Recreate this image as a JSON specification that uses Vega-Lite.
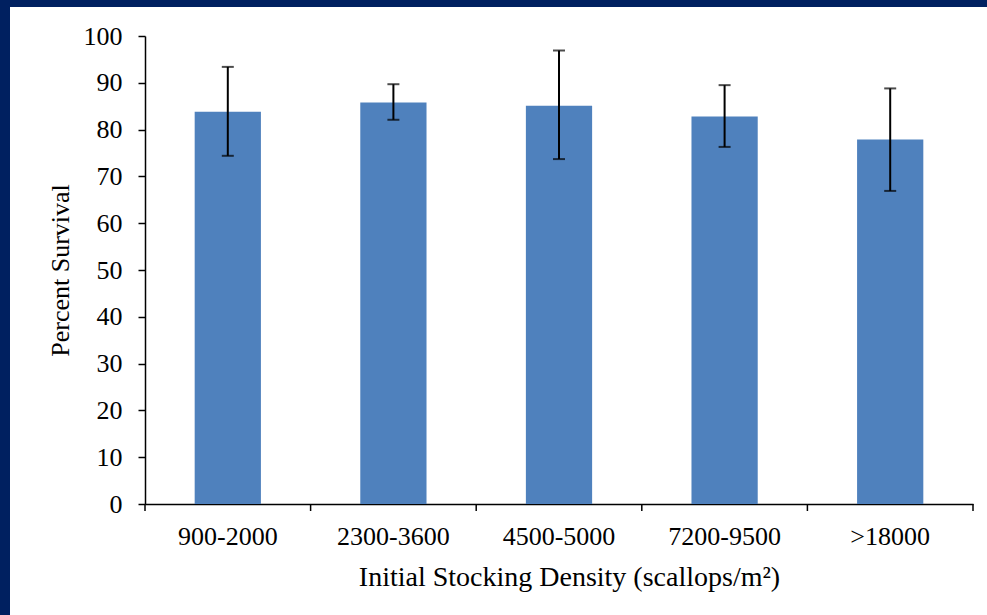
{
  "$schema": "https://vega.github.io/schema/vega-lite/v6.json",
  "width": 977,
  "height": 608,
  "autosize": {"type": "none"},
  "padding": {"left": 10, "top": 7, "right": 0, "bottom": 0},
  "background": "#002060",
  "config": {
    "view": {"fill": "white", "stroke": null},
    "font": "Liberation Serif"
  },
  "data": {
    "values": [
      {"density": "900-2000", "survival": 83.8, "lo": 74.4, "hi": 93.4},
      {"density": "2300-3600", "survival": 85.8, "lo": 82.1, "hi": 89.7},
      {"density": "4500-5000", "survival": 85.1, "lo": 73.7, "hi": 96.9},
      {"density": "7200-9500", "survival": 82.8, "lo": 76.3, "hi": 89.5},
      {"density": ">18000", "survival": 77.9, "lo": 66.9, "hi": 88.8}
    ]
  },
  "encoding": {
    "x": {
      "field": "density",
      "type": "nominal",
      "sort": null,
      "scale": {"range": [135, 963], "paddingInner": 0.6, "paddingOuter": 0.3},
      "axis": {
        "offset": -111,
        "labelAngle": 0,
        "labelFontSize": 26,
        "labelColor": "black",
        "labelPadding": 19,
        "domainColor": "black",
        "domainWidth": 1.5,
        "ticks": false,
        "grid": false,
        "title": "Initial Stocking Density (scallops/m²)",
        "titleFontSize": 28,
        "titleFontWeight": "normal",
        "titleColor": "black",
        "titlePadding": 14,
        "titleX": 559
      }
    }
  },
  "layer": [
    {
      "mark": {"type": "bar", "color": "#4f81bd"},
      "encoding": {
        "y": {
          "field": "survival",
          "type": "quantitative",
          "scale": {"domain": [0, 100], "range": [497, 29], "nice": false},
          "axis": {
            "offset": -135,
            "values": [0, 10, 20, 30, 40, 50, 60, 70, 80, 90, 100],
            "grid": false,
            "labelFontSize": 26,
            "labelColor": "black",
            "labelPadding": 16,
            "domainColor": "black",
            "domainWidth": 1.5,
            "tickColor": "black",
            "tickWidth": 1.5,
            "tickSize": 7,
            "title": "Percent Survival",
            "titleFontSize": 26,
            "titleFontWeight": "normal",
            "titleColor": "black",
            "titlePadding": 10
          }
        }
      }
    },
    {
      "mark": {"type": "rule", "color": "black", "strokeWidth": 1.5},
      "encoding": {
        "x": {"field": "density", "type": "nominal", "sort": null, "bandPosition": -0.75},
        "y": {"datum": 0, "type": "quantitative"},
        "y2": {"datum": -1.5}
      }
    },
    {
      "transform": [{"filter": "datum.density === '>18000'"}],
      "mark": {"type": "rule", "color": "black", "strokeWidth": 1.5},
      "encoding": {
        "x": {"field": "density", "type": "nominal", "sort": null, "bandPosition": 1.75},
        "y": {"datum": 0, "type": "quantitative"},
        "y2": {"datum": -1.5}
      }
    },
    {
      "mark": {"type": "rule", "color": "black", "strokeWidth": 2},
      "encoding": {
        "y": {"field": "lo", "type": "quantitative"},
        "y2": {"field": "hi"}
      }
    },
    {
      "mark": {"type": "tick", "color": "black", "size": 12, "thickness": 2},
      "encoding": {"y": {"field": "hi", "type": "quantitative"}}
    },
    {
      "mark": {"type": "tick", "color": "black", "size": 12, "thickness": 2},
      "encoding": {"y": {"field": "lo", "type": "quantitative"}}
    }
  ]
}
